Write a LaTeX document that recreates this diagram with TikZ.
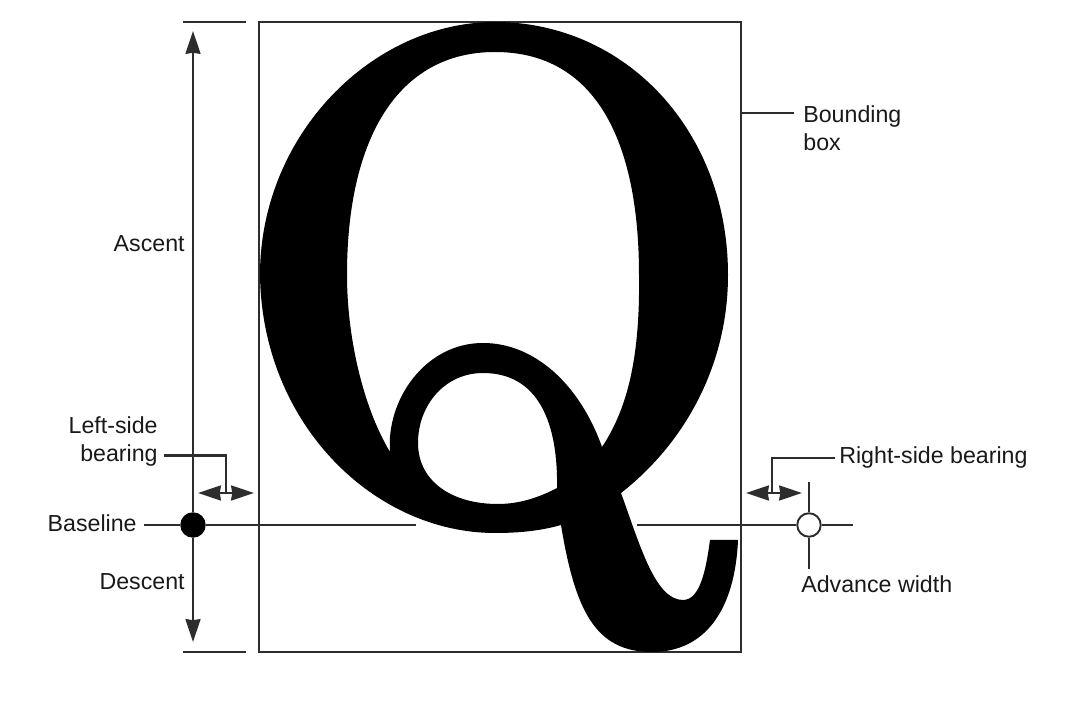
\documentclass[tikz,border=0pt]{standalone}
\usepackage{fontspec}
\setmainfont{Liberation Sans}
\usepackage{xcolor}
\usetikzlibrary{
    positioning,
    arrows.meta
}
\definecolor{chartLine}{RGB}{45, 45, 45}
\definecolor{chartText}{RGB}{25, 25, 25}
\tikzset{
    % 注記の文字
    annot/.style={
        inner sep=0pt,
        text=chartText,
        font=\fontsize{13.2pt}{16.1pt}\selectfont
    },
    % 細い線
    leader/.style={
        draw=chartLine,
        line width=1.2pt
    },
    % 寸法の矢印
    dimarrow/.style={
        leader,
        >={Stealth[length=13pt, width=8.5pt, inset=0.6pt]}
    },
    % 基準点
    refdot/.style={
        circle,
        draw=chartLine,
        line width=1.1pt,
        inner sep=0pt,
        minimum size=23.5pt*0.569
    }
}
\begin{document}
\begin{tikzpicture}[x=0.02cm, y=-0.02cm]
    \useasboundingbox (0,0) rectangle (1080,702);

    % [1] 外枠と基準線
    \coordinate (boxNW) at (259,22);
    \coordinate (boxSE) at (741,652);
    \draw[leader] (boxNW) rectangle (boxSE);

    \node[refdot, fill=black, draw=black] (originDot) at (193,525) {};
    \node[refdot, fill=white] (advanceDot) at (809,525) {};
    \coordinate (baseEndL) at (416,525);
    \coordinate (baseEndR) at (637,525);
    \coordinate (baseTail) at (853,525);

    % [2] 文字 Q
    \fill[black, even odd rule]
        (495,22) .. controls (625,22) and (728,130) .. (728,275)
        .. controls (728,365) and (685,443) .. (621,493)
        .. controls (640,545) and (655,600) .. (683,600)
        .. controls (700,600) and (706,570) .. (710,540)
        -- (738,540)
        .. controls (735,610) and (705,652) .. (652,652)
        .. controls (595,652) and (575,610) .. (561,525)
        .. controls (540,531) and (518,533) .. (495,533)
        .. controls (375,533) and (262,425) .. (260,275)
        .. controls (260,135) and (372,22) .. (495,22) -- cycle
        % 内側の白い部分
        (495,52) .. controls (398,52) and (347,138) .. (347,275)
        .. controls (347,335) and (362,405) .. (390,452)
        .. controls (386,400) and (425,343) .. (483,343)
        .. controls (535,343) and (580,385) .. (602,447)
        .. controls (630,405) and (640,350) .. (639,275)
        .. controls (639,140) and (595,52) .. (495,52) -- cycle
        % 小さな輪
        (483,373) .. controls (445,373) and (418,405) .. (418,443)
        .. controls (418,480) and (450,504) .. (498,504)
        .. controls (520,504) and (540,497) .. (557,488)
        .. controls (558,435) and (545,373) .. (483,373) -- cycle;

    % [3] 文字のラベル
    \node[annot, anchor=base east] (ascentLabel) at (185,252) {Ascent};
    \node[annot, anchor=base east] (descentLabel) at (185,590) {Descent};
    \node[annot, anchor=base east] (baselineLabel) at (137,532) {Baseline};
    \node[annot, anchor=east, align=right] (leftLabel) at (158,441.5) {Left-side\\bearing};
    \node[annot, anchor=west, align=left] (boundLabel) at (803,128) {Bounding\\box};
    \node[annot, anchor=base west] (rightLabel) at (839,464) {Right-side bearing};
    \node[annot, anchor=base west] (advanceLabel) at (801,593) {Advance width};

    % [4] 高さの矢印
    \coordinate (ascentTop) at (193,31);
    \coordinate (descentBot) at (193,642);
    \draw[dimarrow, ->] (originDot) -- (ascentTop);
    \draw[dimarrow, ->] (originDot) -- (descentBot);
    \draw[leader] (183,22) -- (246,22);
    \draw[leader] (183,652) -- (246,652);

    % [5] 基準線
    \draw[leader] (baselineLabel.east |- originDot) ++(7,0) -- (originDot);
    \draw[leader] (originDot) -- (baseEndL);
    \draw[leader] (baseEndR) -- (advanceDot);
    \draw[leader] (advanceDot) -- (baseTail);

    % [6] 左右のベアリング
    \coordinate (leftEndA) at (198,493);
    \coordinate (leftEndB) at (254,493);
    \coordinate (leftMid) at (226,493);
    \coordinate (rightEndA) at (746,493);
    \coordinate (rightEndB) at (802,493);
    \coordinate (rightMid) at (772,493);
    \draw[dimarrow, <->] (leftEndA) -- (leftEndB);
    \draw[dimarrow, <->] (rightEndA) -- (rightEndB);
    \draw[leader] ([shift={(6,14)}]leftLabel.east) -| (leftMid);
    \draw[leader] ([xshift=-2pt]rightLabel.west) -| (rightMid);

    % [7] 送り幅の目印
    \coordinate (advanceTop) at (809,482);
    \coordinate (advanceBot) at (809,569);
    \draw[leader] (advanceDot) -- (advanceTop);
    \draw[leader] (advanceDot) -- (advanceBot);

    % [8] 外枠への引き出し線
    \coordinate (boundEnd) at (741,113);
    \draw[leader] (boundEnd) -- ([xshift=-5pt]boundLabel.west |- boundEnd);

\end{tikzpicture}
\end{document}
